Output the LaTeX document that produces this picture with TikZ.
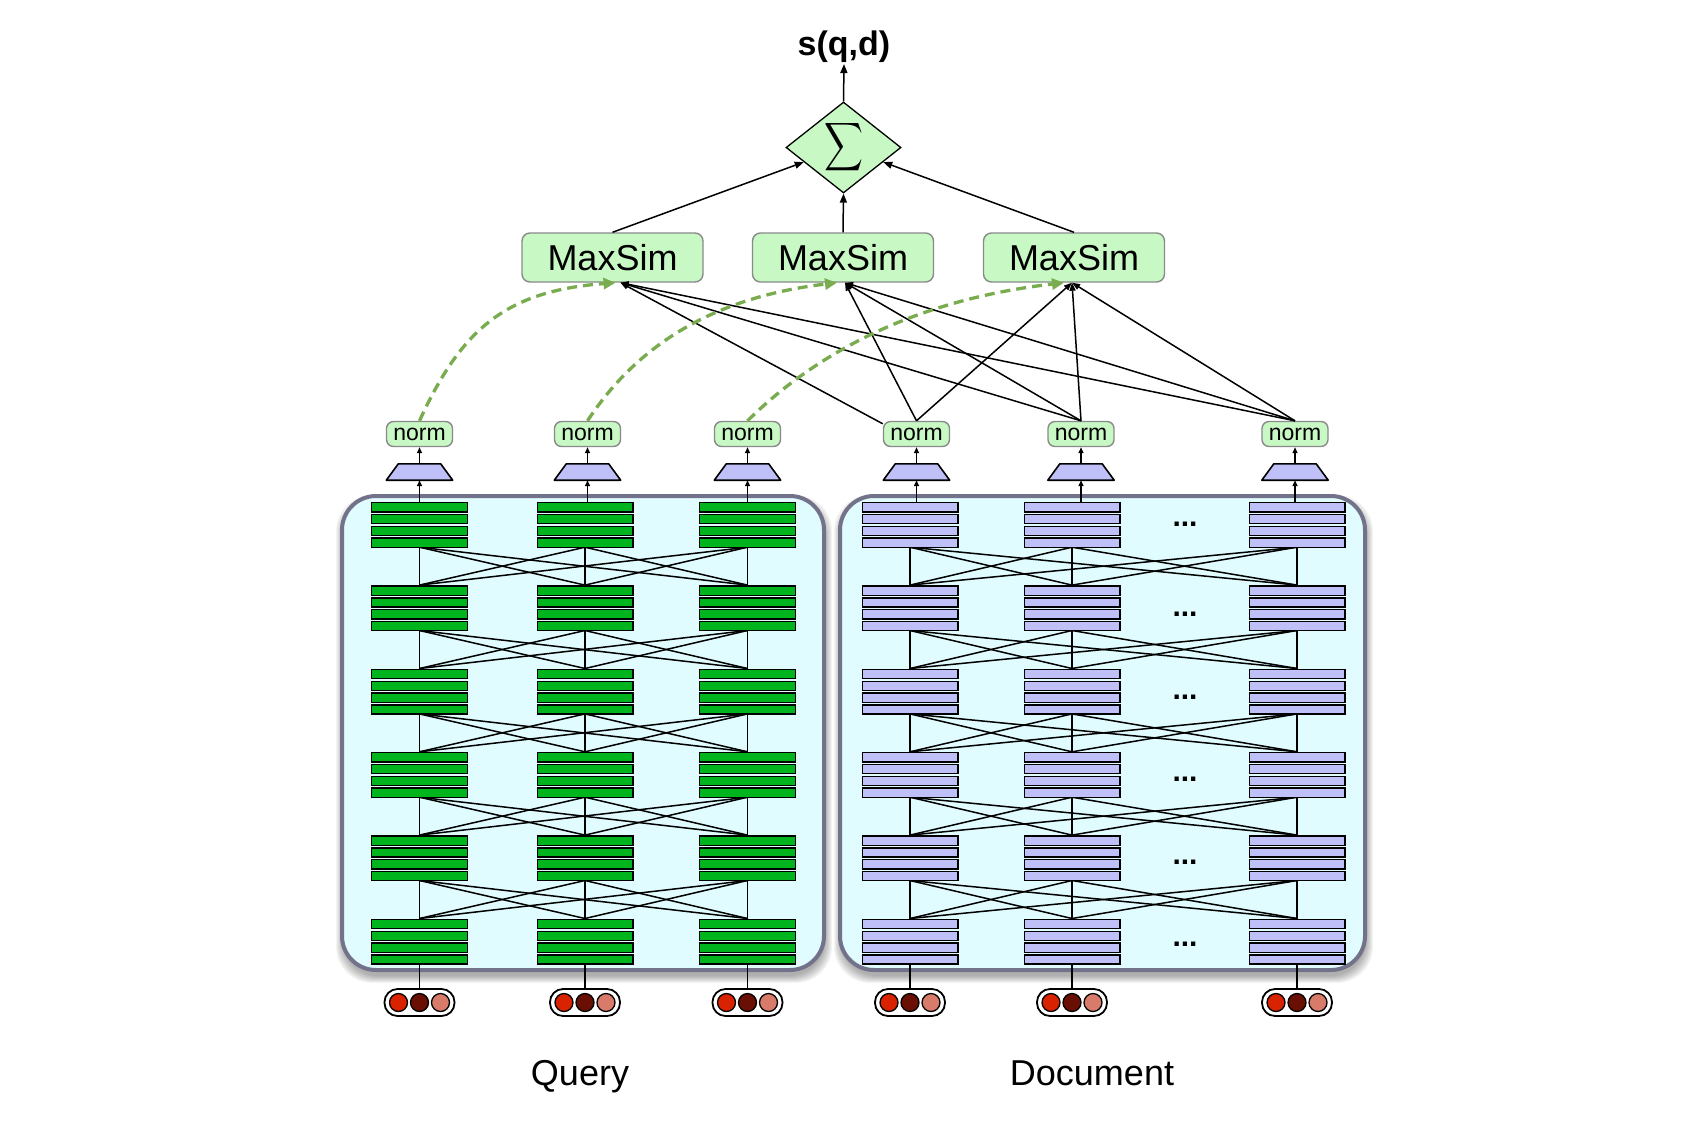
\documentclass[tikz,border=0pt]{standalone}
\usepackage{graphicx}
\usepackage{fontspec}
\setmainfont{Liberation Sans}
\usetikzlibrary{arrows.meta,shapes.geometric,calc}
\definecolor{boxfill}{HTML}{E0FCFE}
\definecolor{boxline}{HTML}{72728A}
\definecolor{lgreen}{HTML}{C8F8C3}
\definecolor{bargreen}{HTML}{00B41E}
\definecolor{lav}{HTML}{C0C0F8}
\definecolor{dgreen}{HTML}{79AC4E}
\definecolor{cred}{HTML}{D82200}
\definecolor{cdark}{HTML}{6A0F04}
\definecolor{csal}{HTML}{D97B6A}
\definecolor{nodeline}{HTML}{8A8A8A}
\tikzset{
  conn/.style={line width=1.5pt, black},
  arr/.style={line width=1.4pt, -{Triangle[length=6pt,width=5pt]}},
  simarr/.style={line width=1.5pt, -{Triangle[length=8pt,width=6pt]}},
  bigarr/.style={line width=1.5pt, -{Triangle[length=9pt,width=7pt]}},
  greenarr/.style={line width=3.3pt, dgreen, dash pattern=on 10pt off 6pt, -{Triangle[length=12pt,width=11pt]}},
  stackbox/.style={minimum width=97pt, minimum height=45pt, inner sep=0pt},
  barrect/.style={draw=black, line width=1.4pt},
  normbox/.style={draw=nodeline, fill=lgreen, line width=1.4pt, rounded corners=7pt, minimum width=66pt, minimum height=25pt, inner sep=0pt, font=\fontsize{23}{25}\selectfont},
  maxsim/.style={draw=nodeline, fill=lgreen, line width=1.4pt, rounded corners=8pt, minimum width=181pt, minimum height=49pt, inner sep=0pt, font=\fontsize{36}{40}\selectfont},
  trapbox/.style={minimum width=66pt, minimum height=16pt, inner sep=0pt},
  trapdraw/.style={draw=black, fill=lav, line width=1.6pt, line join=round},
  capsule/.style={draw=black, fill=white, line width=1.8pt, rounded corners=13pt, minimum width=70pt, minimum height=27pt, inner sep=0pt},
  circ/.style={circle, draw=black, line width=1.3pt, minimum size=18pt, inner sep=0pt},
  bigbox/.style={draw=boxline, fill=boxfill, line width=4pt, rounded corners=34pt, inner sep=0pt},
  dotsnode/.style={font=\bfseries\fontsize{30}{30}\selectfont, inner sep=0pt},
  biglabel/.style={font=\fontsize{36}{40}\selectfont, anchor=base},
}
\begin{document}
\begin{tikzpicture}[x=1pt,y=-1pt]
\useasboundingbox (0,0) rectangle (1706,1120);
\fill[white] (0,0) rectangle (1706,1120);

% shadows of the two big boxes
\foreach \k in {0,...,7} {
  \fill[black, opacity=0.045, rounded corners=36pt] (342-\k+1, 496-\k+6) rectangle (824+\k+1, 970+\k+6);
  \fill[black, opacity=0.045, rounded corners=36pt] (840-\k+1, 496-\k+6) rectangle (1365+\k+1, 970+\k+6);
}
\node[bigbox, minimum width=482pt, minimum height=474pt] (qbox) at (583,733) {};
\node[bigbox, minimum width=525pt, minimum height=474pt] (dbox) at (1102.5,733) {};

% stack anchors
\foreach \c/\x in {1/419.5, 2/585, 3/747.5} {
  \foreach \r/\y in {1/502,2/585.3,3/668.7,4/752,5/835.3,6/918.7} {
    \node[stackbox] (q\c-\r) at (\x, \y+22.5) {};
  }
}
\foreach \c/\x in {1/910, 2/1072, 3/1297} {
  \foreach \r/\y in {1/502,2/585.3,3/668.7,4/752,5/835.3,6/918.7} {
    \node[stackbox] (d\c-\r) at (\x, \y+22.5) {};
  }
}
% layer connections
\foreach \r in {1,...,5} {
  \pgfmathtruncatemacro{\rn}{\r+1}
  \foreach \a in {1,2,3} {
    \foreach \b in {1,2,3} {
      \draw[conn] (q\a-\r.south) -- (q\b-\rn.north);
      \draw[conn] (d\a-\r.south) -- (d\b-\rn.north);
    }
  }
}
% bars
\foreach \c/\x in {1/419.5, 2/585, 3/747.5} {
  \foreach \r/\y in {1/502,2/585.3,3/668.7,4/752,5/835.3,6/918.7} {
    \foreach \k in {0,...,3}
      \draw[barrect, fill=bargreen] (\x-47.8, \y+0.7+\k*11.8) rectangle ++(95.6, 9.2);
  }
}
\foreach \c/\x in {1/910, 2/1072, 3/1297} {
  \foreach \r/\y in {1/502,2/585.3,3/668.7,4/752,5/835.3,6/918.7} {
    \foreach \k in {0,...,3}
      \draw[barrect, fill=lav] (\x-47.8, \y+0.7+\k*11.8) rectangle ++(95.6, 9.2);
  }
}
% dots
\foreach \i/\y in {1/524, 2/614, 3/697, 4/779, 5/862, 6/944}
  \node[dotsnode] (dots\i) at (1185, \y) {...};

% inputs, projections, norms
\foreach \p/\c/\x/\t in {q/1/419.5/419.5, q/2/585/587.5, q/3/747.5/747.5, d/1/910/916.5, d/2/1072/1081, d/3/1297/1295} {
  \node[capsule] (\p i\c) at (\x, 1002.5) {};
  \draw[conn] (\p i\c.north) -- (\p\c-6.south);
  \node[circ, fill=cred] (\p i\c-a) at (\x-21, 1002.5) {};
  \node[circ, fill=cdark] (\p i\c-b) at (\x, 1002.5) {};
  \node[circ, fill=csal] (\p i\c-c) at (\x+21, 1002.5) {};
  \node[trapbox] (\p t\c) at (\t, 472) {};
  \draw[trapdraw] (\p t\c.south west) -- (\p t\c.south east) -- ($(\p t\c.north east)+(-12,0)$) -- ($(\p t\c.north west)+(12,0)$) -- cycle;
  \node[normbox] (\p n\c) at (\t, 434) {norm};
  \draw[arr] (\p\c-1.north -| \p t\c) -- (\p t\c.south);
  \draw[arr] (\p t\c.north) -- (\p n\c.south);
}

% MaxSim
\node[maxsim] (ms1) at (612.5,257.5) {MaxSim};
\node[maxsim] (ms2) at (843,257.5) {MaxSim};
\node[maxsim] (ms3) at (1074,257.5) {MaxSim};

% doc -> MaxSim
\draw[simarr] ([yshift=-3pt]dn1.north west) -- ([xshift=8pt]ms1.south);
\draw[simarr] (dn1.north) -- ([xshift=2pt]ms2.south);
\draw[simarr] (dn1.north) -- ([xshift=-2pt]ms3.south);
\foreach \n in {2,3} {
  \draw[simarr] (dn\n.north) -- ([xshift=8pt]ms1.south);
  \draw[simarr] (dn\n.north) -- ([xshift=2pt]ms2.south);
  \draw[simarr] (dn\n.north) -- ([xshift=-2pt]ms3.south);
}
% query -> MaxSim (dashed)
\draw[greenarr] (qn1.north) .. controls (461,330) and (505,291) .. ([xshift=3pt]ms1.south);
\draw[greenarr] (qn2.north) .. controls (634,350) and (707,298) .. ([xshift=-6pt]ms2.south);
\draw[greenarr] (qn3.north) .. controls (808,361) and (904,301) .. ([xshift=-10pt]ms3.south);

% sum
\node[diamond, draw=black, fill=lgreen, line width=1.3pt, minimum width=115pt, minimum height=91pt, aspect=1.26, inner sep=0pt] (sigma) at (843.5,147.5) {\resizebox*{39pt}{54pt}{$\displaystyle\sum$}};
\node[font=\bfseries\fontsize{34}{38}\selectfont, inner sep=1pt] (score) at (844,47) {s(q,d)};
\draw[bigarr] (ms1.north) -- (sigma);
\draw[bigarr] (ms2.north) -- (sigma.south);
\draw[bigarr] (ms3.north) -- (sigma);
\draw[bigarr] (sigma.north) -- (score.south);

% labels
\node[biglabel] (qlabel) at (580,1085) {Query};
\node[biglabel] (dlabel) at (1092,1085) {Document};
\end{tikzpicture}
\end{document}
